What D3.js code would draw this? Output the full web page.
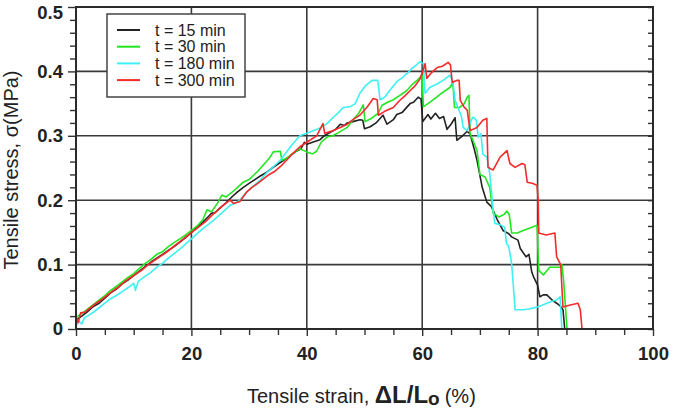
<!DOCTYPE html>
<html>
<head>
<meta charset="utf-8">
<script src="https://cdn.jsdelivr.net/npm/d3@7"></script>
<style>
  body { margin: 0; background: #fff; }
  svg { display: block; font-family: Arial, "Liberation Sans", sans-serif; }
</style>
</head>
<body>
<div id="chart"></div>
<script>
// Tick values
var xTicks = [0, 20, 40, 60, 80, 100];
var xMinor = [5, 10, 15, 25, 30, 35, 45, 50, 55, 65, 70, 75, 85, 90, 95];
var yTicks = [0, 0.1, 0.2, 0.3, 0.4, 0.5];
var yMinor = [0.02, 0.04, 0.06, 0.08, 0.12, 0.14, 0.16, 0.18, 0.22, 0.24, 0.26, 0.28,
              0.32, 0.34, 0.36, 0.38, 0.42, 0.44, 0.46, 0.48];

var seriesNames = ["t = 15 min", "t = 30 min", "t = 180 min", "t = 300 min"];
var seriesColors = ["#222222", "#22e622", "#3ef0f4", "#f52a2a"];

// [strain %, stress MPa]
var t15 = [[0,0.014],[1,0.02],[2,0.027],[3,0.035],[4,0.04],[5,0.048],[6,0.056],[7,0.062],[8,0.07],[9,0.076],
  [10,0.083],[11,0.09],[12,0.097],[13,0.104],[14,0.11],[15,0.116],[16,0.122],[17,0.128],[18,0.135],[19,0.142],
  [20,0.15],[21,0.158],[22,0.166],[23,0.175],[23.5,0.18],[24,0.18],[25,0.188],[26,0.196],[27,0.205],[28,0.213],
  [29,0.22],[30,0.226],[31,0.232],[32,0.238],[33,0.243],[34,0.25],[35,0.256],[36,0.262],[37,0.268],[38,0.275],
  [39,0.28],[39.6,0.29],[40,0.287],[41,0.29],[42.3,0.294],[43,0.3],[44,0.305],[45,0.31],[45.8,0.318],[46.5,0.316],
  [47,0.32],[48,0.322],[49.2,0.325],[49.7,0.324],[50,0.311],[51,0.314],[52,0.32],[53.2,0.332],[53.9,0.318],
  [55,0.325],[55.6,0.333],[56.5,0.336],[57.2,0.343],[57.9,0.35],[58.5,0.352],[59.3,0.36],[59.8,0.357],[60.1,0.322],
  [61,0.333],[61.5,0.326],[62.3,0.335],[63,0.327],[63.7,0.33],[64.3,0.31],[65,0.318],[65.7,0.328],[66,0.293],
  [67,0.3],[67.8,0.307],[68.3,0.303],[69,0.28],[69.5,0.262],[70.4,0.22],[71.2,0.197],[72,0.19],[72.3,0.184],
  [73,0.17],[74,0.153],[75,0.148],[75.5,0.143],[76.6,0.138],[77,0.125],[78,0.112],[78.5,0.116],[79,0.088],
  [79.3,0.081],[80,0.068],[80.4,0.05],[81,0.053],[81.6,0.053],[82.5,0.045],[83.3,0.04],[84,0.035],[84.4,0.03],[84.7,0]];

var t30 = [[0,0.018],[1,0.024],[2,0.031],[3,0.038],[4,0.045],[5,0.052],[6,0.06],[7,0.066],[8,0.073],[9,0.08],
  [10,0.086],[11,0.094],[12,0.102],[13,0.108],[14,0.116],[15,0.12],[16,0.128],[17,0.134],[18,0.14],[19,0.146],
  [20,0.153],[21,0.16],[22,0.17],[22.7,0.185],[23.5,0.182],[24.5,0.195],[25.3,0.208],[26,0.205],[27,0.212],
  [28,0.22],[29,0.228],[30,0.232],[30.7,0.238],[31.5,0.245],[32.5,0.255],[33.5,0.265],[34.2,0.275],[35.4,0.276],
  [35.7,0.262],[36.5,0.265],[37.5,0.272],[38.8,0.28],[39.5,0.277],[40.2,0.274],[41,0.272],[41.7,0.276],
  [42.5,0.29],[43.5,0.298],[44.5,0.3],[45.5,0.305],[47,0.313],[48,0.325],[49,0.335],[49.8,0.348],[50.1,0.322],
  [51,0.326],[52.4,0.335],[53,0.347],[54,0.352],[55,0.356],[56,0.362],[57.3,0.37],[58.3,0.38],[59.2,0.387],
  [60,0.394],[60.2,0.345],[61.3,0.352],[62.5,0.36],[63.5,0.367],[64.8,0.375],[65.3,0.383],[65.6,0.344],
  [66.5,0.344],[67.3,0.35],[67.8,0.36],[68.1,0.363],[68.3,0.303],[68.8,0.293],[69.5,0.277],[70,0.24],
  [70.9,0.236],[71.7,0.22],[72,0.2],[72.3,0.18],[73.3,0.174],[74.2,0.178],[74.7,0.183],[75.1,0.177],
  [75.5,0.149],[76.5,0.149],[77.5,0.153],[78.7,0.157],[79.9,0.161],[80.2,0.091],[81,0.084],[82.1,0.096],
  [83.9,0.096],[84.2,0.1],[84.5,0.076],[85.1,0]];

var t180 = [[0,0.005],[0.5,0.012],[1,0.008],[1.5,0.018],[2,0.02],[3,0.026],[4,0.033],[5,0.04],[6,0.047],
  [7,0.052],[8,0.058],[9,0.064],[10,0.071],[10.3,0.06],[10.8,0.074],[12,0.082],[13,0.088],[14,0.096],
  [15,0.102],[16,0.11],[17,0.117],[18,0.124],[19,0.132],[20,0.14],[21,0.148],[22,0.156],[23,0.163],[24,0.17],
  [25,0.178],[26,0.186],[26.7,0.192],[27.5,0.195],[28.4,0.2],[29.5,0.212],[30.5,0.22],[31.9,0.231],[33,0.242],
  [34.2,0.252],[35.4,0.262],[36.5,0.275],[37.5,0.287],[38.8,0.3],[40,0.304],[41.1,0.308],[42.3,0.312],
  [43.5,0.319],[44.5,0.328],[45.5,0.336],[46.3,0.344],[47.5,0.345],[48.4,0.35],[49.2,0.366],[50.2,0.378],
  [51.3,0.386],[52.3,0.386],[52.7,0.356],[53.5,0.36],[54.5,0.372],[55.6,0.384],[56.5,0.39],[57.4,0.397],
  [58.4,0.406],[59,0.41],[59.6,0.415],[60.2,0.412],[60.5,0.366],[61.3,0.375],[62.5,0.38],[63.6,0.386],
  [64.2,0.39],[64.8,0.394],[65.3,0.385],[65.7,0.355],[66.2,0.344],[66.8,0.33],[67.1,0.313],[67.8,0.308],
  [68.4,0.322],[68.8,0.329],[69.4,0.324],[69.7,0.298],[70.2,0.303],[70.5,0.272],[71.2,0.267],[71.7,0.242],
  [72.3,0.184],[72.6,0.164],[73.5,0.162],[74.3,0.158],[74.6,0.133],[75,0.128],[75.5,0.102],[76.1,0.03],
  [77.5,0.03],[78.5,0.031],[79.9,0.034],[80.8,0.037],[81.6,0.04],[82.5,0.043],[83.3,0.045],[83.9,0.05],[84.2,0]];

var t300 = [[0,0.018],[0.4,0.01],[0.8,0.025],[1.5,0.026],[2.5,0.033],[3.5,0.04],[4.5,0.046],[5.5,0.053],
  [6.5,0.06],[7.5,0.066],[8.5,0.074],[9.5,0.08],[10.5,0.086],[11.5,0.092],[12.5,0.1],[13.5,0.106],[14.5,0.112],
  [15.5,0.118],[16.5,0.125],[17.5,0.132],[18.5,0.139],[19.5,0.146],[20.5,0.153],[21.5,0.16],[22.5,0.167],
  [23.5,0.176],[24.5,0.184],[25.5,0.192],[26.7,0.2],[27.3,0.195],[28.4,0.198],[29.6,0.213],[30.5,0.22],
  [31.5,0.226],[32.5,0.233],[33.5,0.24],[34.5,0.245],[35.4,0.252],[36.5,0.262],[37.5,0.272],[38.8,0.283],
  [40,0.29],[41.7,0.3],[42.8,0.319],[43.1,0.304],[44.5,0.308],[45.8,0.313],[47,0.318],[48,0.325],[49.2,0.332],
  [50.5,0.345],[51.5,0.358],[52.2,0.356],[52.4,0.332],[53.5,0.338],[55,0.344],[56,0.354],[57,0.362],
  [57.9,0.37],[58.8,0.378],[59.6,0.388],[60.1,0.4],[60.5,0.412],[60.8,0.389],[61.5,0.397],[62.6,0.406],
  [63.5,0.408],[64.5,0.414],[64.9,0.41],[65.2,0.383],[66,0.386],[66.4,0.386],[66.6,0.355],[67.3,0.344],
  [67.8,0.34],[68.3,0.308],[69.5,0.313],[70.5,0.324],[71.2,0.327],[71.4,0.251],[72.3,0.247],[73.5,0.267],
  [74.1,0.272],[74.7,0.277],[75.2,0.257],[76.1,0.251],[77.3,0.257],[77.8,0.255],[78.2,0.228],[79.2,0.226],
  [79.9,0.223],[80.1,0.2],[80.2,0.149],[81.5,0.146],[83,0.149],[83.3,0.112],[84,0.1],[84.4,0.034],
  [85.5,0.037],[87,0.04],[87.4,0.03],[87.7,0],[89.6,0]];

var seriesData = [t15, t30, t180, t300];

var totalW = 675, totalH = 409,
    margin = {top: 7, right: 22, bottom: 80, left: 76},
    width = totalW - margin.left - margin.right,
    height = totalH - margin.top - margin.bottom;

var svg = d3.select("#chart").append("svg")
    .attr("width", totalW)
    .attr("height", totalH);

var g = svg.append("g")
    .attr("transform", "translate(" + margin.left + "," + margin.top + ")");

var x = d3.scaleLinear().domain([0, 100]).range([0, width]);
var y = d3.scaleLinear().domain([0, 0.5]).range([height, 0]);

// grid lines
g.append("g").selectAll("line").data(xTicks).enter().append("line")
    .attr("x1", d => x(d)).attr("x2", d => x(d))
    .attr("y1", 0).attr("y2", height)
    .attr("stroke", "#3a3a3a").attr("stroke-width", 1.6);
g.append("g").selectAll("line").data(yTicks).enter().append("line")
    .attr("x1", 0).attr("x2", width)
    .attr("y1", d => y(d)).attr("y2", d => y(d))
    .attr("stroke", "#3a3a3a").attr("stroke-width", 1.6);

// minor ticks
var xMinorAxis = g.append("g")
    .attr("transform", "translate(0," + height + ")")
    .call(d3.axisBottom(x).tickValues(xMinor).tickSize(6).tickFormat(""));
var yMinorAxis = g.append("g")
    .call(d3.axisLeft(y).tickValues(yMinor).tickSize(6).tickFormat(""));
var yRightAxis = g.append("g")
    .attr("transform", "translate(" + width + ",0)")
    .call(d3.axisRight(y).tickValues(yMinor.concat(yTicks)).tickSize(-5).tickFormat(""));

// major axes
var xAxis = g.append("g")
    .attr("transform", "translate(0," + height + ")")
    .call(d3.axisBottom(x).tickValues(xTicks).tickSize(7).tickPadding(11));
var yAxis = g.append("g")
    .call(d3.axisLeft(y).tickValues(yTicks).tickSize(8).tickPadding(5)
        .tickFormat(d => d === 0 ? "0" : d3.format(".1f")(d)));

[xMinorAxis, yMinorAxis, yRightAxis, xAxis, yAxis].forEach(function (a) {
    a.select(".domain").remove();
    a.selectAll(".tick line").attr("stroke", "#333").attr("stroke-width", 1.4);
});
[xAxis, yAxis].forEach(function (a) {
    a.selectAll("text")
        .attr("fill", "#222")
        .style("font-family", "Arial, 'Liberation Sans', sans-serif")
        .style("font-size", "18.5px")
        .style("font-weight", "bold");
});
// top label sits a little lower so it stays inside the picture
yAxis.selectAll(".tick text").filter(d => d === 0.5).attr("dy", "0.62em");

// data lines
var line = d3.line().x(d => x(d[0])).y(d => y(d[1]));
g.append("g").selectAll("path").data(seriesData).enter().append("path")
    .attr("d", line)
    .attr("fill", "none")
    .attr("stroke", (d, i) => seriesColors[i])
    .attr("stroke-width", 1.6)
    .attr("stroke-linejoin", "round");

// plot frame
g.append("rect")
    .attr("width", width).attr("height", height)
    .attr("fill", "none").attr("stroke", "#2a2a2a").attr("stroke-width", 2);

// legend
var legend = svg.append("g").attr("transform", "translate(107,14)");
legend.append("rect")
    .attr("width", 138).attr("height", 83)
    .attr("fill", "#fff").attr("stroke", "#444").attr("stroke-width", 1.5);
var rows = legend.selectAll("g.row").data(seriesNames).enter().append("g")
    .attr("class", "row")
    .attr("transform", (d, i) => "translate(0," + (16 + i * 16.7) + ")");
rows.append("line")
    .attr("x1", 10).attr("x2", 33)
    .attr("stroke", (d, i) => seriesColors[i])
    .attr("stroke-width", 2);
rows.append("text")
    .attr("x", 48).attr("dy", "0.35em")
    .attr("fill", "#222")
    .style("font-size", "16px")
    .text(d => d);

// axis titles
var xt = svg.append("text")
    .attr("x", 247).attr("y", 403)
    .attr("fill", "#222")
    .style("font-size", "20px");
xt.append("tspan").text("Tensile strain, ");
xt.append("tspan").style("font-weight", "bold").style("font-size", "24px").text("ΔL/L");
xt.append("tspan").style("font-weight", "bold").style("font-size", "19px").attr("dy", 2).text("o");
xt.append("tspan").style("font-size", "20px").attr("dy", -2).attr("dx", 5).text("(%)");

svg.append("text")
    .attr("transform", "translate(18,170) rotate(-90)")
    .attr("text-anchor", "middle")
    .attr("fill", "#222")
    .style("font-size", "20px")
    .text("Tensile stress, σ(MPa)");
</script>
</body>
</html>
